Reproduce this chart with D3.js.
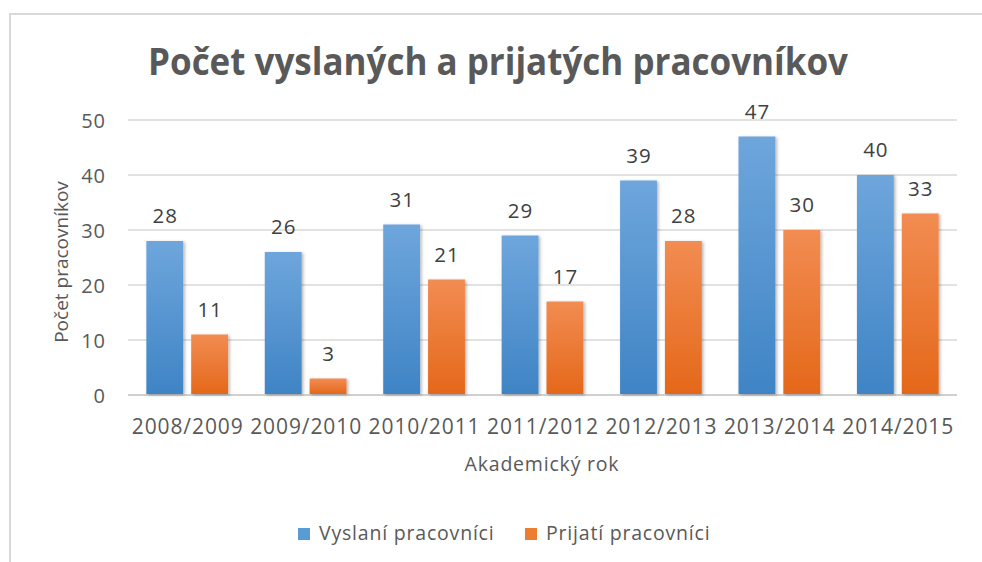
<!DOCTYPE html>
<html><head><meta charset="utf-8">
<script src="https://cdn.jsdelivr.net/npm/d3@7"></script>
<style>
body{margin:0;background:#fff;}
svg{display:block;font-family:"Open Sans",sans-serif;}
</style></head>
<body><svg id="c" width="982" height="562"></svg>
<script>
const categories = ["2008/2009","2009/2010","2010/2011","2011/2012","2012/2013","2013/2014","2014/2015"];
const seriesNames = ["Vyslaní pracovníci","Prijatí pracovníci"];
const vyslani = [28,26,31,29,39,47,40];
const prijati = [11,3,21,17,28,30,33];
const yTicks = [0,10,20,30,40,50];
const titleText = "Počet vyslaných a prijatých pracovníkov";
const yTitle = "Počet pracovníkov";
const xTitle = "Akademický rok";

const svg = d3.select("#c");
const defs = svg.append("defs");
const grads = [["#6ea6dc","#3f84c5"],["#f28c52","#e4681a"]];
grads.forEach((g,i)=>{
  const lg = defs.append("linearGradient").attr("id","g"+i).attr("x1",0).attr("y1",0).attr("x2",0).attr("y2",1);
  lg.append("stop").attr("offset","0%").attr("stop-color",g[0]);
  lg.append("stop").attr("offset","100%").attr("stop-color",g[1]);
});
const f = defs.append("filter").attr("id","sh").attr("x","-20%").attr("y","-20%").attr("width","150%").attr("height","150%");
f.append("feDropShadow").attr("dx",1.5).attr("dy",1).attr("stdDeviation",1.8).attr("flood-color","#000").attr("flood-opacity",0.3);

// frame
svg.append("path").attr("d","M10,562 V14 H982").attr("fill","none").attr("stroke","#d9d9d9").attr("stroke-width",2);

const x0 = d3.scaleBand().domain(categories).range([128,957]).paddingInner(0.31).paddingOuter(0.155);
const x1 = d3.scaleBand().domain([0,1]).range([0,x0.bandwidth()]).paddingInner(0.178);
const y = d3.scaleLinear().domain([0,50]).range([395,120]);

// gridlines
svg.append("g").selectAll("line").data(yTicks).join("line")
  .attr("x1",128).attr("x2",957).attr("y1",d=>y(d)).attr("y2",d=>y(d))
  .attr("stroke",d=>d===0?"#d0d0d0":"#d9d9d9").attr("stroke-width",d=>d===0?2:1.3);

// y axis labels
const yAxis = d3.axisLeft(y).tickValues(yTicks).tickSize(0).tickPadding(0);
const ya = svg.append("g").attr("transform","translate(106,0)").call(yAxis);
ya.select(".domain").remove();
ya.selectAll("text").attr("font-size",20).attr("fill","#595959").attr("font-family","Open Sans")
  .attr("dy","0.36em").attr("letter-spacing",1);

// x axis labels
const xAxis = d3.axisBottom(x0).tickSize(0).tickPadding(0);
const xa = svg.append("g").attr("transform","translate(0,419)").call(xAxis);
xa.select(".domain").remove();
xa.selectAll("text").attr("font-size",21).attr("fill","#595959").attr("font-family","Open Sans")
  .attr("dy","0.71em").attr("letter-spacing",0.9).attr("dx",0.45);

const data = [vyslani, prijati];
const groups = svg.append("g").selectAll("g").data(categories).join("g")
  .attr("transform",c=>`translate(${x0(c)},0)`);
groups.each(function(c,ci){
  const g = d3.select(this);
  [0,1].forEach(si=>{
    const v = data[si][ci];
    g.append("rect").attr("x",x1(si)).attr("width",x1.bandwidth())
      .attr("y",y(v)).attr("height",y(0)-y(v)-1)
      .attr("fill",`url(#g${si})`).attr("filter","url(#sh)");
    g.append("text").attr("x",x1(si)+x1.bandwidth()/2+0.5).attr("y",y(v)-18)
      .attr("text-anchor","middle").attr("font-size",20.5).attr("letter-spacing",1)
      .attr("fill","#404040").text(v);
  });
});

// title
svg.append("text").attr("x",498).attr("y",75).attr("text-anchor","middle")
  .attr("font-size",38).attr("font-weight","bold").attr("fill","#595959")
  .attr("textLength",700).attr("lengthAdjust","spacingAndGlyphs").text(titleText);

// axis titles
svg.append("text").attr("transform","translate(68,262) rotate(-90)").attr("text-anchor","middle")
  .attr("font-size",19).attr("fill","#595959").text(yTitle);
svg.append("text").attr("x",542).attr("y",471).attr("text-anchor","middle")
  .attr("font-size",19.5).attr("fill","#595959").attr("letter-spacing",0.8).text(xTitle);

// legend
const leg = svg.append("g");
const legX = [298,525];
seriesNames.forEach((n,i)=>{
  leg.append("rect").attr("x",legX[i]).attr("y",528).attr("width",12).attr("height",12).attr("fill",i?"#ed7d31":"#5b9bd5");
  leg.append("text").attr("x",legX[i]+21).attr("y",540).attr("font-size",19.5).attr("letter-spacing",0.8)
    .attr("fill","#595959").text(n);
});
</script></body></html>
